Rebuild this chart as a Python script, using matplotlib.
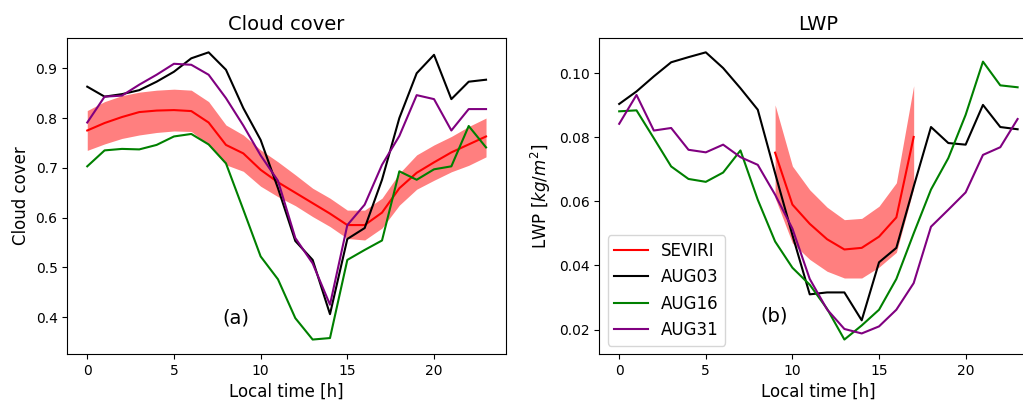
"""
Ciclo diurno de cobertura de nuvens e LWP: SEVIRI vs. simulações.
"""

import matplotlib
matplotlib.use("Agg")
import matplotlib.pyplot as plt

# ---------------------------------------------------------------------------
# Dados
# ---------------------------------------------------------------------------

hours = list(range(24))

cc_seviri = [0.775, 0.790, 0.802, 0.812, 0.815, 0.816, 0.814, 0.791, 0.746, 0.729,
             0.696, 0.671, 0.650, 0.629, 0.608, 0.585, 0.585, 0.610, 0.659, 0.690,
             0.711, 0.731, 0.747, 0.763]
cc_upper = [0.815, 0.833, 0.845, 0.852, 0.856, 0.858, 0.856, 0.833, 0.786, 0.766,
            0.736, 0.712, 0.686, 0.659, 0.639, 0.615, 0.615, 0.639, 0.689, 0.726,
            0.746, 0.763, 0.783, 0.800]
cc_lower = [0.735, 0.748, 0.759, 0.766, 0.771, 0.774, 0.773, 0.746, 0.706, 0.693,
            0.663, 0.642, 0.624, 0.602, 0.582, 0.558, 0.555, 0.579, 0.625, 0.657,
            0.675, 0.692, 0.705, 0.722]
cc_aug03 = [0.863, 0.843, 0.848, 0.856, 0.873, 0.893, 0.920, 0.932, 0.897, 0.820,
            0.756, 0.659, 0.553, 0.515, 0.406, 0.557, 0.579, 0.676, 0.800, 0.890,
            0.927, 0.838, 0.873, 0.877]
cc_aug16 = [0.703, 0.735, 0.738, 0.737, 0.746, 0.763, 0.768, 0.747, 0.709, 0.616,
            0.522, 0.476, 0.398, 0.355, 0.358, 0.515, 0.535, 0.554, 0.693, 0.676,
            0.697, 0.703, 0.784, 0.741]
cc_aug31 = [0.791, 0.843, 0.845, 0.867, 0.887, 0.909, 0.907, 0.887, 0.840, 0.785,
            0.725, 0.674, 0.559, 0.508, 0.425, 0.585, 0.626, 0.706, 0.764, 0.846,
            0.838, 0.775, 0.818, 0.818]

seviri_hours = list(range(9, 18))
lwp_seviri = [0.0752, 0.0590, 0.0530, 0.0482, 0.0450, 0.0455, 0.0490, 0.0550, 0.0801]
lwp_upper = [0.0901, 0.0710, 0.0636, 0.0582, 0.0543, 0.0547, 0.0585, 0.0658, 0.0961]
lwp_lower = [0.0611, 0.0470, 0.0419, 0.0382, 0.0361, 0.0361, 0.0395, 0.0441, 0.0640]
lwp_aug03 = [0.0904, 0.0943, 0.0990, 0.1034, 0.1050, 0.1065, 0.1016, 0.0953, 0.0886, 0.0688,
             0.0495, 0.0310, 0.0316, 0.0316, 0.0229, 0.0410, 0.0455, 0.0646, 0.0832, 0.0782,
             0.0777, 0.0901, 0.0832, 0.0825]
lwp_aug16 = [0.0881, 0.0884, 0.0797, 0.0709, 0.0670, 0.0661, 0.0690, 0.0759, 0.0605, 0.0475,
             0.0393, 0.0340, 0.0265, 0.0169, 0.0213, 0.0262, 0.0358, 0.0500, 0.0637, 0.0735,
             0.0870, 0.1036, 0.0962, 0.0956]
lwp_aug31 = [0.0842, 0.0932, 0.0821, 0.0829, 0.0761, 0.0753, 0.0777, 0.0738, 0.0714, 0.0621,
             0.0515, 0.0358, 0.0263, 0.0202, 0.0188, 0.0210, 0.0262, 0.0345, 0.0521, 0.0574,
             0.0628, 0.0745, 0.0769, 0.0857]

# ---------------------------------------------------------------------------
# Figura
# ---------------------------------------------------------------------------

fig = plt.figure(figsize=(10.23, 4.04), dpi=100)
ax1 = fig.add_axes([0.0658, 0.124, 0.4288, 0.782])
ax2 = fig.add_axes([0.5858, 0.124, 0.4284, 0.782])  # sai um pouco da figura

# --- (a) Cloud cover ---
ax1.fill_between(hours, cc_lower, cc_upper, color="r", alpha=0.5, linewidth=0)
ax1.plot(hours, cc_seviri, color="r", lw=1.5, label="SEVIRI")
ax1.plot(hours, cc_aug03, color="k", lw=1.5, label="AUG03")
ax1.plot(hours, cc_aug16, color="g", lw=1.5, label="AUG16")
ax1.plot(hours, cc_aug31, color="purple", lw=1.5, label="AUG31")
ax1.set_title("Cloud cover", fontsize=14)
ax1.set_ylabel("Cloud cover", fontsize=12)
ax1.set_xlabel("Local time [h]", fontsize=12)
ax1.text(0.384, 0.115, "(a)", transform=ax1.transAxes, ha="center", va="center", fontsize=14)

# --- (b) LWP ---
ax2.fill_between(seviri_hours, lwp_lower, lwp_upper, color="r", alpha=0.5, linewidth=0)
ax2.plot(seviri_hours, lwp_seviri, color="r", lw=1.5, label="SEVIRI")
ax2.plot(hours, lwp_aug03, color="k", lw=1.5, label="AUG03")
ax2.plot(hours, lwp_aug16, color="g", lw=1.5, label="AUG16")
ax2.plot(hours, lwp_aug31, color="purple", lw=1.5, label="AUG31")
ax2.set_title("LWP", fontsize=14)
ax2.set_ylabel("LWP [$kg/m^2$]", fontsize=12)
ax2.set_xlabel("Local time [h]", fontsize=12)
ax2.text(0.40, 0.12, "(b)", transform=ax2.transAxes, ha="center", va="center", fontsize=14)
ax2.legend(loc="lower left", fontsize=12)

for ax in (ax1, ax2):
    ax.set_xticks([0, 5, 10, 15, 20])
    ax.tick_params(labelsize=10)

fig.savefig("out.png", dpi=100)
